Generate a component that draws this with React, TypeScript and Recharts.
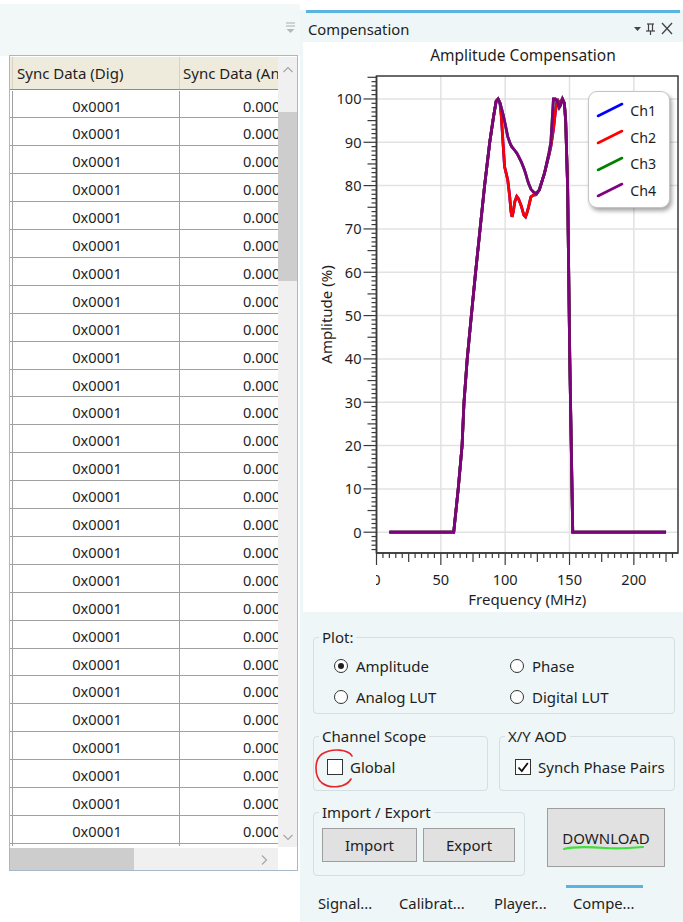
import React from 'react';
import { LineChart, Line, XAxis, YAxis, CartesianGrid, Legend, ReferenceArea, Label } from 'recharts';

// ---- data ----
const freqMHz = [10, 60, 63.5, 66.5, 68, 70.5, 73.7, 77, 80.5, 84, 88, 91, 93, 94.5, 96, 97, 98.5, 99.5, 102, 103.5, 104.5, 105.3, 106.2, 107.5, 109, 110.3, 112.5, 114.5, 115.8, 117, 118.2, 120, 122, 124, 126.5, 130.5, 134, 135.5, 137.5, 139, 140.5, 142, 143, 144.5, 146, 147, 148.5, 150.2, 152.5, 225];
const ch1Amp = [0, 0, 10, 20, 30, 40, 50, 60, 70, 80, 90, 96, 99.5, 100, 99, 96, 89, 84.4, 81.3, 77.5, 74, 72.8, 73.8, 76.3, 77.5, 77, 75.3, 73.2, 72.8, 73.8, 75.1, 77.4, 77.8, 77.9, 79, 82.8, 87, 89, 93, 97, 100, 98.3, 99.5, 100, 99, 95, 80, 40, 0, 0];
const ch2Amp = [0, 0, 10, 20, 30, 40, 50, 60, 70, 80, 90, 96, 99.5, 100, 99, 96, 89, 84.4, 81.3, 77.5, 74, 72.8, 73.8, 76.3, 77.5, 77, 75.3, 73.2, 72.8, 73.8, 75.1, 77.4, 77.8, 77.9, 79, 82.8, 87, 89, 93, 97, 100, 98.3, 99.5, 100, 99, 95, 80, 40, 0, 0];
const ch3Amp = [0, 0, 10, 20, 30, 40, 50, 60, 70, 80, 90, 96, 99.5, 100, 99, 98, 96.3, 94.9, 91.3, 90, 89.3, 88.9, 88.6, 88.1, 87.5, 86.8, 85.5, 84, 82.9, 81.6, 80.5, 79.2, 78.5, 78.2, 79, 82.8, 87.5, 90, 100, 100, 99.5, 98, 98.5, 100, 99, 95, 80, 40, 0, 0];
const ch4Amp = [0, 0, 10, 20, 30, 40, 50, 60, 70, 80, 90, 96, 99.5, 100, 99, 98, 96.3, 94.9, 91.3, 90, 89.3, 88.9, 88.6, 88.1, 87.5, 86.8, 85.5, 84, 82.9, 81.6, 80.5, 79.2, 78.5, 78.2, 79, 82.8, 87.5, 90, 100, 100, 99.5, 98, 98.5, 100, 99, 95, 80, 40, 0, 0];

const seriesNames = ['Ch1', 'Ch2', 'Ch3', 'Ch4'];
const seriesColors = ['#0000ff', '#ff0000', '#008000', '#800080'];

const xMajorTicks = [0, 50, 100, 150, 200];
const yMajorTicks = [0, 10, 20, 30, 40, 50, 60, 70, 80, 90, 100];
const xMinorStep = 5;
const yMinorStep = 1;
const xDomain: [number, number] = [0, 234.3];
const yDomain: [number, number] = [-4.8, 105.3];

const xTicks = Array.from({ length: 47 }, (_, i) => i * xMinorStep);
const yTicks = Array.from({ length: 110 }, (_, i) => -4 + i * yMinorStep);

const tableRowsDig = Array.from({ length: 28 }, () => '0x0001');
const tableRowsAn = Array.from({ length: 28 }, () => '0.0000');

const rows = freqMHz.map((f, i) => ({
  f,
  ch1: ch1Amp[i],
  ch2: ch2Amp[i],
  ch3: ch3Amp[i],
  ch4: ch4Amp[i],
}));

const FONT = '"Noto Sans", "Open Sans", sans-serif';
const TXT = '#1e1e1e';

const YTick = (props: any) => {
  const { x, y, payload } = props;
  const v = payload.value;
  const major = yMajorTicks.includes(v);
  const mid = !major && v % 5 === 0;
  const len = major ? 13 : mid ? 9 : 5;
  return (
    <g>
      <line x1={x - len} x2={x} y1={y} y2={y} stroke="#3a3a3a" strokeWidth={1.2} />
      {major && (
        <text x={x - 15} y={y + 5.3} textAnchor="end" fontSize={14.6} fill={TXT} fontFamily={FONT}>
          {v}
        </text>
      )}
    </g>
  );
};

const XTick = (props: any) => {
  const { x, y, payload } = props;
  const v = payload.value;
  const major = xMajorTicks.includes(v);
  const mid = !major && v % 25 === 0;
  const len = major ? 12 : mid ? 9 : 5;
  const clipId = 'xclip' + v;
  return (
    <g>
      <line x1={x} x2={x} y1={y} y2={y + len} stroke="#3a3a3a" strokeWidth={1.2} />
      {major && (
        <>
          {v === 0 && (
            <defs>
              <clipPath id={clipId}>
                <rect x={x - 0.5} y={y} width={20} height={40} />
              </clipPath>
            </defs>
          )}
          <text
            x={x}
            y={y + 31.5}
            textAnchor="middle"
            fontSize={14.6}
            fill={TXT}
            fontFamily={FONT}
            clipPath={v === 0 ? `url(#${clipId})` : undefined}
          >
            {v}
          </text>
        </>
      )}
    </g>
  );
};

const renderLegend = (props: any) => {
  const payload = props.payload || [];
  return (
    <div
      style={{
        width: 82,
        height: 117,
        background: '#fff',
        border: '1.5px solid #c4c4c4',
        borderRadius: 9,
        boxShadow: '2px 3px 4px rgba(0,0,0,0.35)',
        boxSizing: 'border-box',
        paddingTop: 5,
        fontFamily: FONT,
      }}
    >
      {payload.map((e: any, i: number) => (
        <div key={i} style={{ height: 26.7, display: 'flex', alignItems: 'center' }}>
          <svg width={28} height={16} style={{ marginLeft: 7 }}>
            <line x1={2} y1={14} x2={26} y2={2} stroke={e.color} strokeWidth={2.6} strokeLinecap="round" />
          </svg>
          <span style={{ marginLeft: 6, fontSize: 14.2, color: TXT }}>{e.value}</span>
        </div>
      ))}
    </div>
  );
};

const Radio = ({ x, y, label, checked }: { x: number; y: number; label: string; checked?: boolean }) => (
  <>
    <div
      style={{
        position: 'absolute',
        left: x - 7,
        top: y - 7,
        width: 14,
        height: 14,
        borderRadius: '50%',
        border: '1px solid #333',
        background: '#fff',
        boxSizing: 'border-box',
      }}
    >
      {checked && (
        <div style={{ position: 'absolute', left: 3, top: 3, width: 6, height: 6, borderRadius: '50%', background: '#1e1e1e' }} />
      )}
    </div>
    <div style={{ position: 'absolute', left: x + 15, top: y - 11, fontSize: 15, lineHeight: '22px' }}>{label}</div>
  </>
);

const Check = ({ x, y, label, checked }: { x: number; y: number; label: string; checked?: boolean }) => (
  <>
    <div
      style={{
        position: 'absolute',
        left: x - 8,
        top: y - 8,
        width: 16,
        height: 16,
        border: '1px solid #333',
        background: '#fff',
        boxSizing: 'border-box',
      }}
    >
      {checked && (
        <svg width={14} height={14} style={{ position: 'absolute', left: 0, top: 0 }}>
          <path d="M2.5 7.5 L5.8 11 L11.8 3" fill="none" stroke="#111" strokeWidth={1.8} />
        </svg>
      )}
    </div>
    <div style={{ position: 'absolute', left: x + 15, top: y - 11, fontSize: 15, lineHeight: '22px' }}>{label}</div>
  </>
);

const Group = ({ x, y, w, h, label }: { x: number; y: number; w: number; h: number; label: string }) => (
  <>
    <div
      style={{
        position: 'absolute',
        left: x,
        top: y,
        width: w,
        height: h,
        border: '1px solid #d3dfe3',
        borderRadius: 4,
        boxSizing: 'border-box',
      }}
    />
    <div
      style={{
        position: 'absolute',
        left: x + 6,
        top: y - 11,
        padding: '0 3px',
        background: '#eef6f7',
        fontSize: 15,
        lineHeight: '22px',
      }}
    >
      {label}
    </div>
  </>
);

const Button = ({ x, y, w, h, label }: { x: number; y: number; w: number; h: number; label: string }) => (
  <div
    style={{
      position: 'absolute',
      left: x,
      top: y,
      width: w,
      height: h,
      background: '#e1e1e1',
      border: '1px solid #9e9e9e',
      boxSizing: 'border-box',
      display: 'flex',
      alignItems: 'center',
      justifyContent: 'center',
      fontSize: 15,
    }}
  >
    {label}
  </div>
);

export default function App() {
  const rowH = 27.9;
  const rowTop = 89.5;
  return (
    <div
      style={{
        position: 'absolute',
        left: 0,
        top: 0,
        width: 683,
        height: 922,
        background: '#fff',
        overflow: 'hidden',
        fontFamily: FONT,
        color: TXT,
      }}
    >
      {/* left top panel */}
      <div style={{ position: 'absolute', left: 0, top: 4, width: 300, height: 52, background: '#f2f7f8' }} />
      <svg style={{ position: 'absolute', left: 284, top: 20 }} width={14} height={16}>
        <line x1={2} y1={3} x2={11} y2={3} stroke="#b4b9bc" strokeWidth={1.2} />
        <line x1={2} y1={6} x2={11} y2={6} stroke="#b4b9bc" strokeWidth={1.2} />
        <path d="M2.5 9 L10.5 9 L6.5 13 Z" fill="#b4b9bc" />
      </svg>

      {/* table */}
      <div
        style={{
          position: 'absolute',
          left: 9,
          top: 55,
          width: 289,
          height: 816,
          border: '1px solid #a7b8c8',
          boxSizing: 'border-box',
          overflow: 'hidden',
          background: '#fff',
        }}
      >
        {/* header */}
        <div style={{ position: 'absolute', left: 0, top: 1, width: 268, height: 33, background: '#eeebdd', borderBottom: '1.5px solid #8c8c8c', boxSizing: 'border-box' }} />
        <div style={{ position: 'absolute', left: 2, top: 1, width: 1, height: 32, background: '#d6d3c6' }} />
        <div style={{ position: 'absolute', left: 169, top: 1, width: 1, height: 32, background: '#d6d3c6' }} />
        <div style={{ position: 'absolute', left: 7, top: 6, fontSize: 15, lineHeight: '22px', whiteSpace: 'nowrap' }}>Sync Data (Dig)</div>
        <div style={{ position: 'absolute', left: 173, top: 6, width: 95, overflow: 'hidden', fontSize: 15, lineHeight: '22px', whiteSpace: 'nowrap' }}>Sync Data (Analog)</div>
        {/* rows */}
        <div style={{ position: 'absolute', left: 0, top: rowTop - 55, width: 268, height: 845 - rowTop, overflow: 'hidden' }}>
          {tableRowsDig.map((t, i) => (
            <React.Fragment key={i}>
              <div style={{ position: 'absolute', left: 0, top: (i + 1) * rowH - 1, width: 268, height: 1, background: '#a0a0a0' }} />
              <div style={{ position: 'absolute', left: 3, top: i * rowH + 4, width: 168, textAlign: 'center', fontSize: 14.6, lineHeight: '22px' }}>{t}</div>
              <div style={{ position: 'absolute', left: 233, top: i * rowH + 4, fontSize: 14.6, lineHeight: '22px', whiteSpace: 'nowrap' }}>{tableRowsAn[i]}</div>
            </React.Fragment>
          ))}
          <div style={{ position: 'absolute', left: 2, top: 0, width: 1, height: 800, background: '#a0a0a0' }} />
          <div style={{ position: 'absolute', left: 169, top: 0, width: 1, height: 800, background: '#a0a0a0' }} />
        </div>
        {/* vertical scrollbar */}
        <div style={{ position: 'absolute', left: 268, top: 1, width: 20, height: 790, background: '#f0f0f0' }} />
        <div style={{ position: 'absolute', left: 268, top: 56, width: 20, height: 169, background: '#cdcdcd' }} />
        <svg style={{ position: 'absolute', left: 272, top: 9 }} width={12} height={10}>
          <path d="M1.5 7 L6 2.5 L10.5 7" fill="none" stroke="#a6a6a6" strokeWidth={1.2} />
        </svg>
        <svg style={{ position: 'absolute', left: 272, top: 776 }} width={12} height={10}>
          <path d="M1.5 3 L6 7.5 L10.5 3" fill="none" stroke="#a6a6a6" strokeWidth={1.2} />
        </svg>
        {/* horizontal scrollbar */}
        <div style={{ position: 'absolute', left: 0, top: 792, width: 268, height: 23, background: '#f0f0f0' }} />
        <div style={{ position: 'absolute', left: 0, top: 792, width: 124, height: 23, background: '#cdcdcd' }} />
        <svg style={{ position: 'absolute', left: 249, top: 798 }} width={10} height={12}>
          <path d="M3 1.5 L7.5 6 L3 10.5" fill="none" stroke="#a6a6a6" strokeWidth={1.2} />
        </svg>
      </div>

      {/* right panel */}
      <div style={{ position: 'absolute', left: 300, top: 0, width: 383, height: 922, background: '#eef6f7' }} />
      <div style={{ position: 'absolute', left: 300, top: 0, width: 383, height: 10, background: '#fff' }} />
      <div style={{ position: 'absolute', left: 306, top: 10, width: 374, height: 3, background: '#5ab4e2' }} />
      <div style={{ position: 'absolute', left: 308, top: 18, fontSize: 14.8, lineHeight: '22px' }}>Compensation</div>
      <svg style={{ position: 'absolute', left: 630, top: 20 }} width={50} height={18}>
        <path d="M4 7 L11 7 L7.5 11 Z" fill="#444" />
        <line x1={17} y1={4} x2={24} y2={4} stroke="#444" strokeWidth={1.2} />
        <line x1={18.5} y1={4} x2={18.5} y2={11} stroke="#444" strokeWidth={1.2} />
        <line x1={22.5} y1={4} x2={22.5} y2={11} stroke="#444" strokeWidth={1.2} />
        <line x1={16} y1={11} x2={25} y2={11} stroke="#444" strokeWidth={1.2} />
        <line x1={20.5} y1={11} x2={20.5} y2={15} stroke="#444" strokeWidth={1.2} />
        <line x1={32} y1={3} x2={42} y2={14} stroke="#444" strokeWidth={1.3} />
        <line x1={42} y1={3} x2={32} y2={14} stroke="#444" strokeWidth={1.3} />
      </svg>

      {/* chart area */}
      <div style={{ position: 'absolute', left: 303, top: 42, width: 380, height: 570, background: '#fff' }} />
      <div style={{ position: 'absolute', left: 403, top: 44, width: 240, textAlign: 'center', fontSize: 15.5, lineHeight: '22px' }}>
        Amplitude Compensation
      </div>
      <div style={{ position: 'absolute', left: 303, top: 42 }}>
        <LineChart width={380} height={570} data={rows} margin={{ top: 34, right: 5, bottom: 14, left: 13.5 }}>
          <CartesianGrid
            stroke="#e2e2e2"
            strokeWidth={1.5}
            horizontalValues={yMajorTicks}
            verticalValues={xMajorTicks.slice(1)}
          />
          <XAxis
            dataKey="f"
            type="number"
            domain={xDomain}
            allowDataOverflow
            ticks={xTicks}
            interval={0}
            tick={<XTick />}
            tickSize={0}
            tickMargin={0}
            tickLine={false}
            axisLine={{ stroke: '#3a3a3a', strokeWidth: 1.5 }}
            height={45}
          >
            <Label
              content={(p: any) => {
                const vb = p.viewBox || {};
                return (
                  <text x={vb.x + vb.width / 2} y={vb.y + 52} textAnchor="middle" fontSize={15} fill={TXT} fontFamily={FONT}>
                    Frequency (MHz)
                  </text>
                );
              }}
            />
          </XAxis>
          <YAxis
            type="number"
            domain={yDomain}
            allowDataOverflow
            ticks={yTicks}
            interval={0}
            tick={<YTick />}
            tickSize={0}
            tickMargin={0}
            tickLine={false}
            axisLine={{ stroke: '#3a3a3a', strokeWidth: 1.5 }}
            width={60}
          >
            <Label
              content={(p: any) => {
                const vb = p.viewBox || {};
                const cx = vb.x + 9;
                const cy = vb.y + vb.height / 2;
                return (
                  <text
                    x={cx}
                    y={cy}
                    transform={`rotate(-90 ${cx} ${cy})`}
                    textAnchor="middle"
                    dominantBaseline="central"
                    fontSize={15}
                    fill={TXT}
                    fontFamily={FONT}
                  >
                    Amplitude (%)
                  </text>
                );
              }}
            />
          </YAxis>
          <ReferenceArea
            x1={xDomain[0]}
            x2={xDomain[1]}
            y1={yDomain[0]}
            y2={yDomain[1]}
            fill="none"
            fillOpacity={0}
            stroke="#3a3a3a"
            strokeWidth={1.5}
            ifOverflow="visible"
          />
          <Line type="linear" dataKey="ch1" name={seriesNames[0]} stroke={seriesColors[0]} strokeWidth={2.8} dot={false} isAnimationActive={false} />
          <Line type="linear" dataKey="ch2" name={seriesNames[1]} stroke={seriesColors[1]} strokeWidth={2.8} dot={false} isAnimationActive={false} />
          <Line type="linear" dataKey="ch3" name={seriesNames[2]} stroke={seriesColors[2]} strokeWidth={2.8} dot={false} isAnimationActive={false} />
          <Line type="linear" dataKey="ch4" name={seriesNames[3]} stroke={seriesColors[3]} strokeWidth={2.8} dot={false} isAnimationActive={false} />
          <Legend
            layout="vertical"
            align="center"
            verticalAlign="middle"
            content={renderLegend}
            wrapperStyle={{ left: 285.3, top: 49, width: 82, height: 117 }}
          />
        </LineChart>
      </div>

      {/* controls */}
      <Group x={313} y={637} w={362} h={77} label="Plot:" />
      <Radio x={341} y={666} label="Amplitude" checked />
      <Radio x={517} y={666} label="Phase" />
      <Radio x={341} y={697} label="Analog LUT" />
      <Radio x={517} y={697} label="Digital LUT" />

      <Group x={313} y={736} w={175} h={55} label="Channel Scope" />
      <Check x={335} y={767} label="Global" />
      <Group x={499} y={736} w={176} h={55} label="X/Y AOD" />
      <Check x={523} y={767} label="Synch Phase Pairs" checked />

      <Group x={313} y={812} w={212} h={64} label="Import / Export" />
      <Button x={322} y={828} w={95} h={34} label="Import" />
      <Button x={423} y={828} w={92} h={34} label="Export" />
      <Button x={547} y={808} w={118} h={59} label="DOWNLOAD" />

      {/* annotations */}
      <svg style={{ position: 'absolute', left: 0, top: 0, pointerEvents: 'none' }} width={683} height={922}>
        <path
          d="M352 756 C 348 749, 332 748, 322 754 C 314 760, 314 776, 322 783 C 330 789, 346 788, 351 779"
          fill="none"
          stroke="#e8242b"
          strokeWidth={1.6}
          strokeLinecap="round"
        />
        <path
          d="M564 849 C 575 846, 590 847, 605 848 C 618 849, 632 848, 643 847"
          fill="none"
          stroke="#3ee03a"
          strokeWidth={2.2}
          strokeLinecap="round"
        />
      </svg>

      {/* tabs */}
      <div style={{ position: 'absolute', left: 566, top: 885, width: 77, height: 3, background: '#5ab4e2' }} />
      <div style={{ position: 'absolute', left: 318, top: 892, fontSize: 14.8, lineHeight: '22px', whiteSpace: 'nowrap' }}>Signal...</div>
      <div style={{ position: 'absolute', left: 399, top: 892, fontSize: 14.8, lineHeight: '22px', whiteSpace: 'nowrap' }}>Calibrat...</div>
      <div style={{ position: 'absolute', left: 494, top: 892, fontSize: 14.8, lineHeight: '22px', whiteSpace: 'nowrap' }}>Player...</div>
      <div style={{ position: 'absolute', left: 573, top: 892, fontSize: 14.8, lineHeight: '22px', whiteSpace: 'nowrap' }}>Compe...</div>
    </div>
  );
}
